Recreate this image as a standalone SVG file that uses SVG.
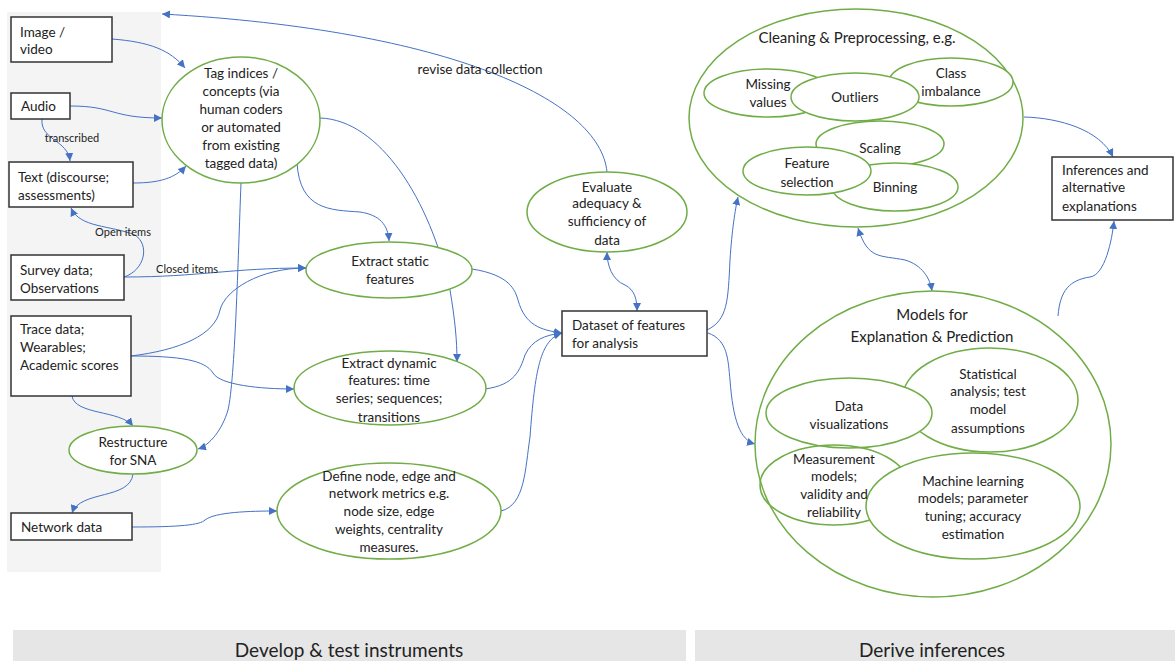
<svg xmlns="http://www.w3.org/2000/svg" width="1175" height="661" viewBox="0 0 1175 661">
<defs>
<marker id="ah" markerWidth="8" markerHeight="8" refX="8" refY="4" orient="auto-start-reverse" markerUnits="userSpaceOnUse">
<path d="M0,0 L8,4 L0,8 z" fill="#4472c4"/>
</marker>
</defs>
<style>
text{font-family:Lato,"Liberation Sans",sans-serif;font-size:13.5px;fill:#222}
.c{text-anchor:middle}
.box{fill:#fff;stroke:#333;stroke-width:1.5}
.el{fill:#fff;stroke:#70ad47;stroke-width:1.5}
.cn path{fill:none;stroke:#4472c4;stroke-width:1;marker-end:url(#ah)}
.lbl{font-size:11px}
.t15{font-size:15px}
.bar{fill:#e6e6e6}
.bt{font-size:19px}
</style>
<rect x="7" y="12" width="154" height="560" fill="#f4f4f4"/>
<rect class="bar" x="13" y="630" width="673" height="31"/>
<rect class="bar" x="695" y="630" width="480" height="31"/>
<text class="c bt" x="349" y="657">Develop &amp; test instruments</text>
<text class="c bt" x="932" y="657">Derive inferences</text>

<g class="cn" id="connectors">
<path d="M112,39 C150,42 170,50 185,68"/>
<path d="M70,106 C115,106 110,118 162,118"/>
<path d="M42,119 C40,140 68,140 70,161"/>
<path d="M133,183 C160,183 175,178 186,166"/>
<path d="M124,277 C145,270 150,245 135,235 C110,225 80,228 71,208"/>
<path d="M124,277 C200,277 230,268 306,268"/>
<path d="M297,163 C300,210 330,210 360,212 C380,215 388,225 389,241"/>
<path d="M320,118 C380,120 430,200 450,290 C455,320 457,340 457,362"/>
<path d="M241,183 C238,260 235,380 228,410 C222,430 210,445 198,449"/>
<path d="M131,356 C180,350 215,335 220,310 C225,290 260,268 306,268"/>
<path d="M131,356 C180,356 205,360 213,373 C220,385 260,389 294,389"/>
<path d="M72,396 C75,415 120,410 133,426"/>
<path d="M133,474 C130,500 80,490 72,513"/>
<path d="M132,527 C180,527 200,525 205,520 C215,512 250,511 277,511"/>
<path d="M472,269 C510,275 515,290 518,300 C525,325 540,330 562,333"/>
<path d="M485,389 C515,385 520,370 525,355 C532,340 545,335 562,333"/>
<path d="M501,511 C525,505 525,470 530,437 C535,370 540,340 562,333"/>
<path d="M637,311 C637,300 635,290 625,285 C612,280 607,265 607,252" style="marker-start:url(#ah)"/>
<path d="M607,172 C600,100 450,30 162,14"/>
<path d="M707,330 C728,320 728,300 730,260 C732,230 735,210 738,197"/>
<path d="M708,333 C728,340 728,360 730,380 C733,420 740,440 755,444"/>
<path d="M858,228 C868,260 880,255 905,260 C922,265 930,278 932,291" style="marker-start:url(#ah)"/>
<path d="M1024,117 C1060,118 1100,130 1113,157"/>
<path d="M1058,316 C1060,290 1070,280 1090,277 C1105,275 1112,240 1114,221"/>
</g>
<text class="c lbl" x="72" y="142">transcribed</text>
<text class="c lbl" x="123" y="236">Open items</text>
<text class="c lbl" x="187" y="273">Closed items</text>
<text class="c" x="480" y="74">revise data collection</text>

<g id="image-video"><rect class="box" x="11" y="17" width="101" height="45"/><text x="20" y="37">Image /</text><text x="20" y="54">video</text></g>
<g id="audio"><rect class="box" x="11" y="93" width="59" height="26"/><text x="21" y="111">Audio</text></g>
<g id="text-box"><rect class="box" x="9" y="162" width="124" height="45"/><text x="18" y="182">Text (discourse;</text><text x="18" y="200">assessments)</text></g>
<g id="survey"><rect class="box" x="11" y="255" width="113" height="45"/><text x="20" y="275">Survey data;</text><text x="20" y="293">Observations</text></g>
<g id="trace"><rect class="box" x="11" y="316" width="120" height="80"/><text x="20" y="334">Trace data;</text><text x="20" y="352">Wearables;</text><text x="20" y="370">Academic scores</text></g>
<g id="network-data"><rect class="box" x="11" y="513" width="121" height="27"/><text x="21" y="532">Network data</text></g>

<g id="tag"><ellipse class="el" cx="241" cy="120" rx="79" ry="63"/>
<text class="c" x="241" y="78">Tag indices /</text><text class="c" x="241" y="96">concepts (via</text><text class="c" x="241" y="114">human coders</text><text class="c" x="241" y="132">or automated</text><text class="c" x="241" y="150">from existing</text><text class="c" x="241" y="168">tagged data)</text></g>
<g id="extract-static"><ellipse class="el" cx="389" cy="270" rx="83" ry="28"/><text class="c" x="390" y="266">Extract static</text><text class="c" x="390" y="284">features</text></g>
<g id="evaluate"><ellipse class="el" cx="607" cy="212" rx="80" ry="40"/><text class="c" x="607" y="192">Evaluate</text><text class="c" x="607" y="208">adequacy &amp;</text><text class="c" x="607" y="226">sufficiency of</text><text class="c" x="607" y="245">data</text></g>
<g id="extract-dynamic"><ellipse class="el" cx="390" cy="388" rx="96" ry="37"/><text class="c" x="389" y="368">Extract dynamic</text><text class="c" x="389" y="385">features: time</text><text class="c" x="389" y="403">series; sequences;</text><text class="c" x="389" y="422">transitions</text></g>
<g id="define-node"><ellipse class="el" cx="389" cy="511" rx="112" ry="48"/><text class="c" x="389" y="481">Define node, edge and</text><text class="c" x="389" y="498">network metrics e.g.</text><text class="c" x="389" y="516">node size, edge</text><text class="c" x="389" y="534">weights, centrality</text><text class="c" x="389" y="552">measures.</text></g>
<g id="restructure"><ellipse class="el" cx="133" cy="450" rx="64" ry="24"/><text class="c" x="133" y="447">Restructure</text><text class="c" x="133" y="465">for SNA</text></g>
<g id="dataset"><rect class="box" x="562" y="311" width="145" height="45"/><text x="572" y="330">Dataset of features</text><text x="572" y="348">for analysis</text></g>

<g id="cleaning"><ellipse class="el" cx="856" cy="118" rx="167" ry="109"/>
<text class="c t15" x="857" y="43">Cleaning &amp; Preprocessing, e.g.</text>
<ellipse class="el" cx="768" cy="93" rx="64" ry="24"/>
<ellipse class="el" cx="951" cy="82" rx="62" ry="24"/>
<ellipse class="el" cx="855" cy="97" rx="64" ry="24"/>
<text class="c" x="768" y="89">Missing</text><text class="c" x="768" y="107">values</text>
<text class="c" x="951" y="78">Class</text><text class="c" x="951" y="96">imbalance</text>
<text class="c" x="855" y="102">Outliers</text>
<ellipse class="el" cx="880" cy="144" rx="64" ry="23"/>
<ellipse class="el" cx="895" cy="187" rx="63" ry="24"/>
<ellipse class="el" cx="807" cy="171" rx="64" ry="24"/>
<text class="c" x="880" y="153">Scaling</text>
<text class="c" x="895" y="192">Binning</text>
<text class="c" x="807" y="168">Feature</text><text class="c" x="807" y="187">selection</text>
</g>
<g id="inferences"><rect class="box" x="1052" y="157" width="121" height="63"/><text x="1062" y="175">Inferences and</text><text x="1062" y="192">alternative</text><text x="1062" y="211">explanations</text></g>

<g id="models"><ellipse class="el" cx="933" cy="444" rx="178" ry="153"/>
<text class="c t15" x="932" y="320">Models for</text><text class="c t15" x="932" y="342">Explanation &amp; Prediction</text>
<ellipse class="el" cx="990" cy="400" rx="88" ry="52"/>
<ellipse class="el" cx="849" cy="413" rx="83" ry="35"/>
<ellipse class="el" cx="834" cy="485" rx="74" ry="40" style="fill:none"/>
<ellipse class="el" cx="973" cy="506" rx="107" ry="53"/>
<text class="c" x="988" y="379">Statistical</text><text class="c" x="988" y="396">analysis; test</text><text class="c" x="988" y="414">model</text><text class="c" x="988" y="433">assumptions</text>
<text class="c" x="849" y="411">Data</text><text class="c" x="849" y="429">visualizations</text>
<text class="c" x="834" y="464">Measurement</text><text class="c" x="834" y="481">models;</text><text class="c" x="834" y="499">validity and</text><text class="c" x="834" y="517">reliability</text>
<text class="c" x="973" y="486">Machine learning</text><text class="c" x="973" y="503">models; parameter</text><text class="c" x="973" y="521">tuning; accuracy</text><text class="c" x="973" y="539">estimation</text>
</g>
</svg>
